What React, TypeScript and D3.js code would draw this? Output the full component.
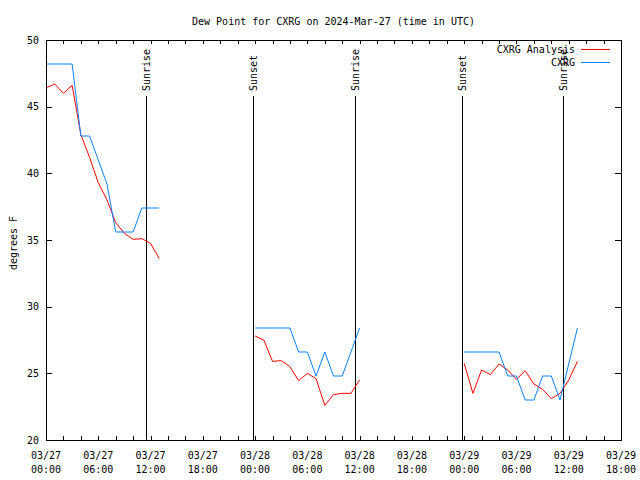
import React from "react";
import * as d3 from "d3";

const title = "Dew Point for CXRG on 2024-Mar-27 (time in UTC)";
const yLabel = "degrees F";
const domainStart = "2024-03-27T00:00:00Z";
const domainEnd = "2024-03-29T18:00:00Z";
const yTicks = [20, 25, 30, 35, 40, 45, 50];

// hourly segments: start time + values (null = no value)
const segStarts = ["2024-03-27T00:00:00Z", "2024-03-28T00:00:00Z", "2024-03-29T00:00:00Z"];
const analysis1 = [46.4, 46.7, 46.0, 46.6, 42.9, 41.2, 39.3, 38.0, 36.3, 35.5, 35.05, 35.1, 34.75, 33.6];
const analysis2 = [27.8, 27.5, 25.9, 25.95, 25.5, 24.45, 25.0, 24.6, 22.6, 23.4, 23.5, 23.5, 24.5];
const analysis3 = [25.75, 23.5, 25.25, 24.9, 25.7, 25.25, 24.55, 25.2, 24.2, 23.8, 23.1, 23.5, 24.5, 25.9];
const obs1 = [48.2, 48.2, 48.2, 48.2, 42.8, 42.8, 41.0, 39.2, 35.6, 35.6, 35.6, 37.4, 37.4, 37.4];
const obs2 = [28.4, 28.4, 28.4, 28.4, 28.4, 26.6, 26.6, 24.8, 26.6, 24.8, 24.8, 26.6, 28.4];
const obs3 = [26.6, 26.6, 26.6, 26.6, 26.6, 24.8, 24.8, 23.0, 23.0, 24.8, 24.8, 23.0, null, 28.4];

const sunEvents = [
  { label: "Sunrise", time: "2024-03-27T11:29:00Z" },
  { label: "Sunset", time: "2024-03-27T23:46:00Z" },
  { label: "Sunrise", time: "2024-03-28T11:28:00Z" },
  { label: "Sunset", time: "2024-03-28T23:46:00Z" },
  { label: "Sunrise", time: "2024-03-29T11:22:00Z" },
];

const seriesNames = ["CXRG Analysis", "CXRG"];
const seriesColors = ["#ff0000", "#0a80ff"];

const FONT = "'DejaVu Sans Mono', monospace";

type Pt = { t: Date; v: number };

function toPoints(start: string, vals: (number | null)[]): Pt[] {
  const s = new Date(start);
  const out: Pt[] = [];
  vals.forEach((v, i) => {
    if (v != null) out.push({ t: d3.utcHour.offset(s, i), v });
  });
  return out;
}

export default function App() {
  const W = 640, H = 480;
  const left = 46, right = 621, top = 40, bottom = 440;
  const x = d3.scaleUtc().domain([new Date(domainStart), new Date(domainEnd)]).range([left, right]);
  const y = d3.scaleLinear().domain([20, 50]).range([bottom, top]);
  const line = d3.line<Pt>().x((d) => x(d.t)).y((d) => y(d.v));

  const analysisSegs = [analysis1, analysis2, analysis3].map((a, i) => toPoints(segStarts[i], a));
  const obsSegs = [obs1, obs2, obs3].map((a, i) => toPoints(segStarts[i], a));

  const xTicks = d3.utcHour.every(2)!.range(new Date(domainStart), d3.utcHour.offset(new Date(domainEnd), 1));
  const labelTicks = d3.utcHour.every(6)!.range(new Date(domainStart), d3.utcHour.offset(new Date(domainEnd), 1));
  const fmtDate = d3.utcFormat("%m/%d");
  const fmtTime = d3.utcFormat("%H:%M");
  const tl = 4;

  return (
    <svg width={W} height={H} style={{ position: "absolute", left: 0, top: 0, background: "#fff" }} fontFamily={FONT} fontSize={10}>
      <rect x={0} y={0} width={W} height={H} fill="#fff" />
      <text x={(left + right) / 2} y={25} textAnchor="middle" fill="#000">{title}</text>
      <text transform={`translate(17,${(top + bottom) / 2 + 3}) rotate(-90)`} textAnchor="middle" fill="#000">{yLabel}</text>

      {/* y ticks */}
      {yTicks.map((v) => (
        <g key={"y" + v} shapeRendering="crispEdges">
          <line x1={left} x2={left + tl + 2} y1={Math.round(y(v)) + 0.5} y2={Math.round(y(v)) + 0.5} stroke="#000" />
          <line x1={right - tl - 2} x2={right} y1={Math.round(y(v)) + 0.5} y2={Math.round(y(v)) + 0.5} stroke="#000" />
          <text x={39} y={y(v)} dy="0.35em" textAnchor="end" fill="#000">{v}</text>
        </g>
      ))}

      {/* x ticks */}
      {xTicks.map((t, i) => {
        const xx = Math.round(x(t)) + 0.5;
        return (
          <g key={"xt" + i} shapeRendering="crispEdges">
            <line x1={xx} x2={xx} y1={bottom} y2={bottom - tl} stroke="#000" />
            <line x1={xx} x2={xx} y1={top} y2={top + tl} stroke="#000" />
          </g>
        );
      })}
      {labelTicks.map((t, i) => (
        <g key={"xl" + i}>
          <text x={x(t)} y={459} textAnchor="middle" fill="#000">{fmtDate(t)}</text>
          <text x={x(t)} y={473} textAnchor="middle" fill="#000">{fmtTime(t)}</text>
        </g>
      ))}

      {/* sun events */}
      {sunEvents.map((e, i) => {
        const xx = Math.round(x(new Date(e.time))) + 0.5;
        return (
          <g key={"sun" + i}>
            <line x1={xx} x2={xx} y1={96} y2={bottom} stroke="#000" shapeRendering="crispEdges" />
            <text transform={`translate(${xx},91) rotate(-90)`} dy="0.35em" textAnchor="start" fill="#000">{e.label}</text>
          </g>
        );
      })}

      {/* data */}
      {analysisSegs.map((s, i) => (
        <path key={"a" + i} d={line(s) || ""} fill="none" stroke={seriesColors[0]} strokeWidth={1} />
      ))}
      {obsSegs.map((s, i) => (
        <path key={"o" + i} d={line(s) || ""} fill="none" stroke={seriesColors[1]} strokeWidth={1} />
      ))}

      {/* legend */}
      {seriesNames.map((n, i) => (
        <g key={"lg" + i}>
          <text x={575} y={49 + i * 13} dy="0.35em" textAnchor="end" fill="#000">{n}</text>
          <line x1={581} x2={610} y1={49.5 + i * 13} y2={49.5 + i * 13} stroke={seriesColors[i]} shapeRendering="crispEdges" />
        </g>
      ))}

      {/* border */}
      <rect x={left + 0.5} y={top + 0.5} width={right - left} height={bottom - top} fill="none" stroke="#000" shapeRendering="crispEdges" />
    </svg>
  );
}
